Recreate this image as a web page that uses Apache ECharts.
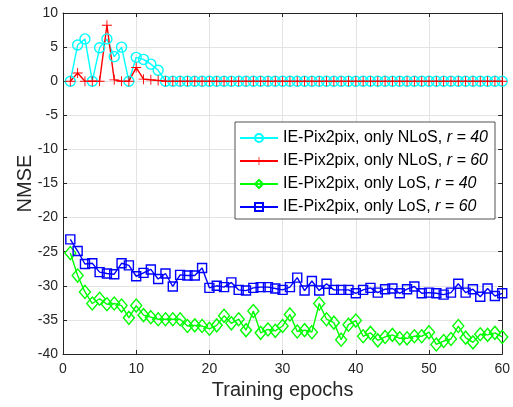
<!DOCTYPE html>
<html>
<head>
<meta charset="utf-8">
<script src="https://cdn.jsdelivr.net/npm/echarts@6/dist/echarts.min.js"></script>
<style>
  html, body { margin: 0; padding: 0; background: #fff; }
  #chart { width: 513px; height: 407px; }
</style>
</head>
<body>
<div id="chart"></div>
<script>
// x values: training epochs
const epochs = [1, 2, 3, 4, 5, 6, 7, 8, 9, 10, 11, 12, 13, 14, 15, 16, 17, 18, 19, 20,
  21, 22, 23, 24, 25, 26, 27, 28, 29, 30, 31, 32, 33, 34, 35, 36, 37, 38, 39, 40,
  41, 42, 43, 44, 45, 46, 47, 48, 49, 50, 51, 52, 53, 54, 55, 56, 57, 58, 59, 60];

// NMSE
const nlos40 = [0, 5.3, 6.2, 0, 4.9, 6.2, 3.6, 5.0, 0, 3.5, 3.2, 2.5, 1.6, 0, 0, 0, 0, 0, 0, 0,
  0, 0, 0, 0, 0, 0, 0, 0, 0, 0, 0, 0, 0, 0, 0, 0, 0, 0, 0, 0,
  0, 0, 0, 0, 0, 0, 0, 0, 0, 0, 0, 0, 0, 0, 0, 0, 0, 0, 0, 0];
const nlos60 = [0, 1.2, 0, 0, 0, 8.2, 0.2, 0, 0, 2.0, 0.3, 0.2, 0.1, 0, 0, 0, 0, 0, 0, 0,
  0, 0, 0, 0, 0, 0, 0, 0, 0, 0, 0, 0, 0, 0, 0, 0, 0, 0, 0, 0,
  0, 0, 0, 0, 0, 0, 0, 0, 0, 0, 0, 0, 0, 0, 0, 0, 0, 0, 0, 0];
const los40 = [-25.2, -28.5, -30.9, -32.6, -31.9, -32.7, -32.6, -32.9, -34.7, -32.9,
  -34.3, -34.6, -34.9, -34.9, -34.9, -34.9, -35.9, -35.8, -35.9, -36.3,
  -35.8, -34.4, -35.5, -34.9, -36.5, -33.7, -36.9, -36.4, -36.6, -35.9,
  -34.2, -36.7, -36.5, -36.8, -32.6, -34.9, -35.4, -37.9, -35.7, -35.1,
  -37.4, -36.9, -38.0, -37.5, -37.2, -37.7, -37.7, -37.4, -37.4, -36.8,
  -38.6, -38.1, -37.8, -35.9, -37.6, -38.3, -37.1, -37.2, -36.9, -37.5];
const los60 = [-23.2, -24.9, -26.8, -26.7, -28.0, -28.2, -28.3, -26.7, -27.0, -28.6,
  -28.1, -27.6, -29.0, -28.2, -30.1, -28.4, -28.5, -28.5, -27.4, -30.3,
  -30.0, -30.2, -29.5, -30.6, -30.7, -30.3, -30.2, -30.2, -30.4, -30.6,
  -30.2, -28.8, -30.7, -29.3, -30.7, -29.7, -30.6, -30.6, -30.6, -31.1,
  -30.6, -30.3, -31.0, -30.5, -30.4, -31.1, -30.5, -30.1, -31.1, -31.0,
  -31.1, -31.3, -31.0, -29.7, -31.0, -30.5, -31.6, -30.4, -31.5, -31.1];

const legendNames = ['IE-Pix2pix, only NLoS, ', 'IE-Pix2pix, only NLoS,  ', 'IE-Pix2pix, only LoS, ', 'IE-Pix2pix, only LoS,  '];
const legendRadius = ['r = 40', 'r = 60', 'r = 40', 'r = 60'];

const txt = '#262626';
const plus = 'path://M-0.09,-1H0.09V-0.09H1V0.09H0.09V1H-0.09V0.09H-1V-0.09H-0.09Z';

const pairs = (ys) => epochs.map((x, i) => [x, ys[i]]);

const makeSeries = (idx, ys, color, symbol, size, filled) => ({
  name: legendNames[idx],
  type: 'line',
  data: pairs(ys),
  symbol: symbol,
  symbolSize: size,
  showAllSymbol: true,
  animation: false,
  lineStyle: { color: color, width: 1.4 },
  itemStyle: filled
    ? { color: color }
    : { color: 'rgba(255,255,255,0)', borderColor: color, borderWidth: 1.4 },
});

const chart = echarts.init(document.getElementById('chart'));

const option = {
  backgroundColor: '#fff',
  textStyle: { fontFamily: 'Liberation Sans, Arial, sans-serif' },
  grid: { left: 63, right: 10, top: 13, bottom: 53 },
  legend: {
    orient: 'vertical',
    left: 235,
    top: 122,
    padding: [8, 7, 4, 4],
    itemWidth: 38,
    itemHeight: 10,
    itemGap: 7,
    backgroundColor: '#fff',
    borderColor: txt,
    borderWidth: 0.8,
    borderRadius: 0,
    formatter: (name) => name.trimEnd() + ' {i|' + legendRadius[legendNames.indexOf(name)] + '}',
    textStyle: {
      fontSize: 16,
      lineHeight: 14,
      color: '#000',
      fontFamily: 'Liberation Sans, Arial, sans-serif',
      rich: { i: { fontStyle: 'italic', fontSize: 16, lineHeight: 14, color: '#000' } },
    },
  },
  xAxis: [
    {
      type: 'value',
      min: 0,
      max: 60,
      interval: 10,
      name: 'Training epochs',
      nameLocation: 'middle',
      nameGap: 24,
      nameTextStyle: { fontSize: 20, color: txt },
      axisLine: { onZero: false, lineStyle: { color: txt, width: 1 } },
      axisTick: { inside: true, length: 4, lineStyle: { color: txt } },
      axisLabel: { fontSize: 14, color: txt, margin: 8 },
      splitLine: { show: true, lineStyle: { color: '#e3e3e3', width: 1 } },
    },
    {
      type: 'value',
      position: 'top',
      min: 0,
      max: 60,
      interval: 10,
      axisLine: { onZero: false, lineStyle: { color: txt, width: 1 } },
      axisTick: { inside: true, length: 4, lineStyle: { color: txt } },
      axisLabel: { show: false },
      splitLine: { show: false },
    },
  ],
  yAxis: [
    {
      type: 'value',
      min: -40,
      max: 10,
      interval: 5,
      name: 'NMSE',
      nameLocation: 'middle',
      nameGap: 28,
      nameMoveOverlap: false,
      nameTextStyle: { fontSize: 20, color: txt },
      axisLine: { show: true, onZero: false, lineStyle: { color: txt, width: 1 } },
      axisTick: { show: true, inside: true, length: 4, lineStyle: { color: txt } },
      axisLabel: { fontSize: 14, color: txt, margin: 5 },
      splitLine: { show: true, lineStyle: { color: '#e3e3e3', width: 1 } },
    },
    {
      type: 'value',
      position: 'right',
      min: -40,
      max: 10,
      interval: 5,
      axisLine: { show: true, onZero: false, lineStyle: { color: txt, width: 1 } },
      axisTick: { show: true, inside: true, length: 4, lineStyle: { color: txt } },
      axisLabel: { show: false },
      splitLine: { show: false },
    },
  ],
  series: [
    makeSeries(0, nlos40, '#00ffff', 'circle', 10, false),
    makeSeries(1, nlos60, '#ff0000', plus, 10, true),
    makeSeries(2, los40, '#00ff00', 'diamond', [11, 13], false),
    makeSeries(3, los60, '#0000ff', 'rect', 9, false),
  ],
};

chart.setOption(option);
</script>
</body>
</html>
